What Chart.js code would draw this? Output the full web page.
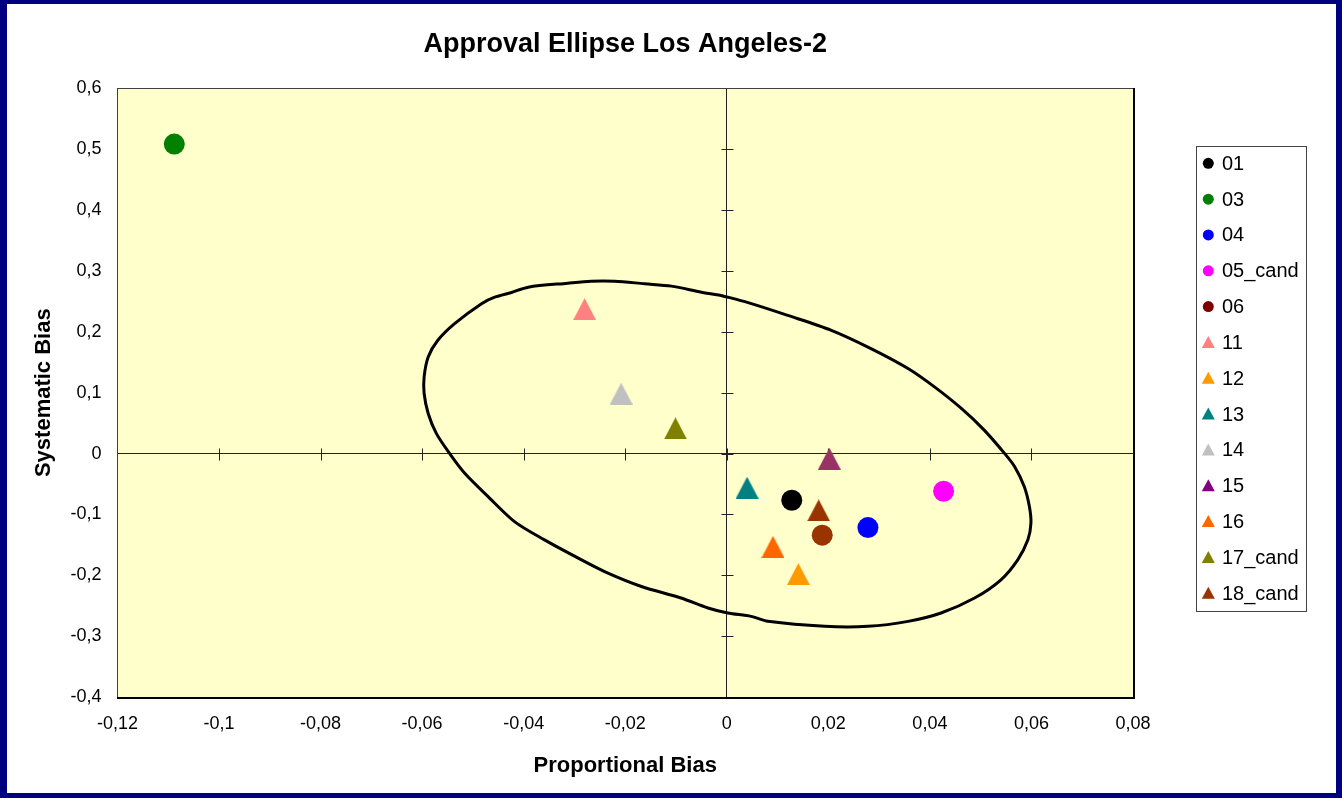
<!DOCTYPE html>
<html>
<head>
<meta charset="utf-8">
<title>Approval Ellipse Los Angeles-2</title>
<script src="https://cdn.jsdelivr.net/npm/chart.js@4.4.1/dist/chart.umd.min.js"></script>
<style>
  html, body { margin: 0; padding: 0; }
  body { width: 1342px; height: 798px; background: #000080; position: relative; overflow: hidden; }
  #frame { position: absolute; left: 7px; top: 4px; width: 1329px; height: 789px; background: #fff; }
</style>
</head>
<body>
<div id="frame"><canvas id="approval-chart"></canvas></div>
<script>
const seriesNames = ['01', '03', '04', '05_cand', '06', '11', '12', '13', '14', '15', '16', '17_cand', '18_cand'];
const proportionalBias = [0.0128, -0.1088, 0.0278, 0.0427, 0.0188, -0.0280, 0.0141, 0.0040, -0.0208, 0.0202, 0.0091, -0.0101, 0.0181];
const systematicBias = [-0.0767, 0.5085, -0.1216, -0.0620, -0.1341, 0.2374, -0.1980, -0.0561, 0.0984, -0.0085, -0.1533, 0.0413, -0.0934];
const markerShapes = ['circle', 'circle', 'circle', 'circle', 'circle', 'triangle', 'triangle', 'triangle', 'triangle', 'triangle', 'triangle', 'triangle', 'triangle'];
const markerColors = ['#000000', '#008000', '#0000FF', '#FF00FF', '#993300', '#FF8080', '#FF9900', '#008080', '#C0C0C0', '#993366', '#FF6600', '#808000', '#993300'];
const legendColors = ['#000000', '#008000', '#0000FF', '#FF00FF', '#800000', '#FF8080', '#FF9900', '#008080', '#C0C0C0', '#800080', '#FF6600', '#808000', '#993300'];

// approval ellipse outline
const ellipseX = [-0.0011, -0.0050, -0.0109, -0.0162, -0.0221, -0.0267, -0.0313, -0.0391, -0.0424, -0.0457,
  -0.0483, -0.0536, -0.0569, -0.0588, -0.0596, -0.0596, -0.0588, -0.0572, -0.0546, -0.0516,
  -0.0470, -0.0418, -0.0359, -0.0286, -0.0234, -0.0168, -0.0090, -0.0037, 0.0002, 0.0048,
  0.0081, 0.0193, 0.0278, 0.0357, 0.0422, 0.0488, 0.0540, 0.0573, 0.0593, 0.0599,
  0.0596, 0.0586, 0.0567, 0.0547, 0.0507, 0.0462, 0.0409, 0.0357, 0.0284, 0.0206,
  0.0120, 0.0042, -0.0011];
const ellipseY = [0.2598, 0.2652, 0.2751, 0.2790, 0.2833, 0.2833, 0.2800, 0.2734, 0.2646, 0.2569,
  0.2462, 0.2134, 0.1861, 0.1587, 0.1259, 0.0987, 0.0659, 0.0331, 0.0003, -0.0325,
  -0.0708, -0.1118, -0.1418, -0.1746, -0.1964, -0.2184, -0.2374, -0.2538, -0.2620, -0.2675,
  -0.2757, -0.2839, -0.2839, -0.2757, -0.2620, -0.2374, -0.2074, -0.1746, -0.1418, -0.1144,
  -0.0872, -0.0544, -0.0216, 0.0003, 0.0385, 0.0741, 0.1095, 0.1397, 0.1725, 0.2025,
  0.2270, 0.2479, 0.2598];

const FONT = '"Liberation Sans", Arial, sans-serif';

function makeTriangle(color, w, h) {
  const c = document.createElement('canvas');
  c.width = w;
  c.height = h;
  const g = c.getContext('2d');
  g.fillStyle = color;
  g.beginPath();
  g.moveTo(w / 2, 0);
  g.lineTo(w, h);
  g.lineTo(0, h);
  g.closePath();
  g.fill();
  return c;
}

function formatTick(value) {
  const v = Math.round(value * 100) / 100;
  return String(v).replace('.', ',');
}

const plotArea = {
  id: 'plotArea',
  beforeDraw(chart) {
    const {ctx, chartArea: a} = chart;
    ctx.save();
    ctx.fillStyle = '#FFFFCC';
    ctx.fillRect(a.left, a.top, a.right - a.left, a.bottom - a.top);
    ctx.restore();
  },
  beforeDatasetsDraw(chart) {
    const {ctx, chartArea: a, scales} = chart;
    const x0 = Math.round(scales.x.getPixelForValue(0)) + 0.5;
    const y0 = Math.round(scales.y.getPixelForValue(0)) + 0.5;
    ctx.save();
    ctx.strokeStyle = '#222';
    ctx.lineWidth = 1;
    ctx.beginPath();
    // cross ticks on the zero axes
    scales.x.ticks.forEach(t => {
      const px = Math.round(scales.x.getPixelForValue(t.value)) + 0.5;
      ctx.moveTo(px, y0 - 6);
      ctx.lineTo(px, y0 + 6);
    });
    scales.y.ticks.forEach(t => {
      const py = Math.round(scales.y.getPixelForValue(t.value)) + 0.5;
      ctx.moveTo(x0 - 6, py);
      ctx.lineTo(x0 + 6, py);
    });
    ctx.stroke();

    // plot frame
    ctx.strokeStyle = '#404040';
    ctx.strokeRect(Math.round(a.left) + 0.5, Math.round(a.top) + 0.5, Math.round(a.right - a.left), Math.round(a.bottom - a.top));
    ctx.strokeStyle = '#000';
    ctx.lineWidth = 2;
    ctx.beginPath();
    ctx.moveTo(Math.round(a.left), Math.round(a.bottom) + 1);
    ctx.lineTo(Math.round(a.right) + 1, Math.round(a.bottom) + 1);
    ctx.lineTo(Math.round(a.right) + 1, Math.round(a.top));
    ctx.stroke();
    ctx.restore();
  }
};

const boxedLegend = {
  id: 'boxedLegend',
  afterDraw(chart) {
    const {ctx, chartArea: a} = chart;
    const left = Math.round(a.right) + 63;
    const top = Math.round(a.top) + 58;
    const width = 110;
    const height = 465;
    const step = 35.83;

    ctx.save();
    ctx.strokeStyle = '#444';
    ctx.lineWidth = 1;
    ctx.strokeRect(left + 0.5, top + 0.5, width, height);

    ctx.font = '20px ' + FONT;
    ctx.textBaseline = 'middle';
    ctx.textAlign = 'left';
    seriesNames.forEach((name, i) => {
      const cy = top + 17.3 + i * step;
      const cx = left + 12.3;
      ctx.fillStyle = legendColors[i];
      ctx.beginPath();
      if (markerShapes[i] === 'circle') {
        ctx.arc(cx, cy, 5.5, 0, Math.PI * 2);
      } else {
        ctx.moveTo(cx, cy - 6.5);
        ctx.lineTo(cx + 6.5, cy + 5.5);
        ctx.lineTo(cx - 6.5, cy + 5.5);
        ctx.closePath();
      }
      ctx.fill();
      ctx.fillStyle = '#000';
      ctx.fillText(name, left + 26, cy + 1);
    });
    ctx.restore();
  }
};

const datasets = [{
  label: 'Ellipse',
  data: ellipseX.map((x, i) => ({x: x, y: ellipseY[i]})),
  showLine: true,
  borderColor: '#000000',
  borderWidth: 3,
  pointRadius: 0,
  tension: 0.3,
  order: 2
}];

seriesNames.forEach((name, i) => {
  const isCircle = markerShapes[i] === 'circle';
  datasets.push({
    label: name,
    data: [{x: proportionalBias[i], y: systematicBias[i]}],
    pointStyle: isCircle ? 'circle' : makeTriangle(markerColors[i], 23, 22),
    pointRadius: isCircle ? 10.5 : 11,
    pointBorderWidth: 0,
    backgroundColor: markerColors[i],
    borderColor: markerColors[i],
    order: 1
  });
});

new Chart(document.getElementById('approval-chart').getContext('2d'), {
  type: 'scatter',
  data: {datasets: datasets},
  plugins: [plotArea, boxedLegend],
  options: {
    responsive: true,
    maintainAspectRatio: false,
    animation: false,
    layout: {
      padding: {top: 0, left: 4, right: 203, bottom: 14}
    },
    scales: {
      x: {
        type: 'linear',
        min: -0.12,
        max: 0.08,
        border: {display: false},
        grid: {
          drawTicks: false,
          color: ctx => (ctx.tick && Math.abs(ctx.tick.value) < 1e-9) ? '#222' : 'rgba(0,0,0,0)'
        },
        ticks: {
          stepSize: 0.02,
          padding: 16,
          color: '#000',
          maxRotation: 0,
          font: {family: FONT, size: 18},
          callback: value => formatTick(value)
        },
        title: {
          display: true,
          text: 'Proportional Bias',
          color: '#000',
          font: {family: FONT, size: 22, weight: 'bold'},
          padding: {top: 2, bottom: 0}
        }
      },
      y: {
        type: 'linear',
        min: -0.4,
        max: 0.6,
        border: {display: false},
        grid: {
          drawTicks: false,
          color: ctx => (ctx.tick && Math.abs(ctx.tick.value) < 1e-9) ? '#222' : 'rgba(0,0,0,0)'
        },
        ticks: {
          stepSize: 0.1,
          padding: 16,
          color: '#000',
          font: {family: FONT, size: 18},
          callback: value => formatTick(value)
        },
        title: {
          display: true,
          text: 'Systematic Bias',
          color: '#000',
          font: {family: FONT, size: 22, weight: 'bold'},
          padding: {top: 20, bottom: -3}
        }
      }
    },
    plugins: {
      title: {
        display: true,
        fullSize: false,
        text: 'Approval Ellipse Los Angeles-2',
        color: '#000',
        font: {family: FONT, size: 27, weight: 'bold'},
        padding: {top: 24, bottom: 28}
      },
      legend: {display: false},
      tooltip: {enabled: false}
    }
  }
});
</script>
</body>
</html>
